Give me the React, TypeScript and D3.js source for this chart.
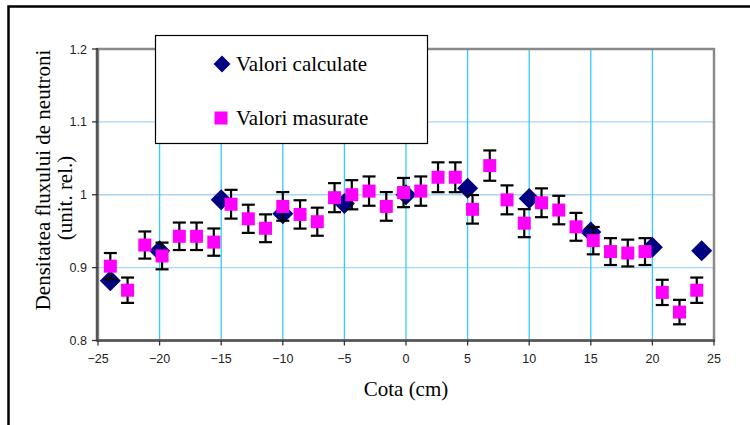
import React from "react";
import * as d3 from "d3";

// Axial position of each measurement (cm) and relative flux density
const measuredX = [-24, -22.6, -21.2, -19.8, -18.4, -17, -15.6, -14.2, -12.8, -11.4, -10, -8.6, -7.2, -5.8, -4.4, -3, -1.6, -0.2, 1.2, 2.6, 4, 5.4, 6.8, 8.2, 9.6, 11, 12.4, 13.8, 15.2, 16.6, 18, 19.4, 20.8, 22.2, 23.6];
const measuredY = [0.902, 0.869, 0.931, 0.916, 0.943, 0.943, 0.935, 0.987, 0.967, 0.954, 0.984, 0.973, 0.963, 0.996, 1.0, 1.005, 0.984, 1.003, 1.005, 1.024, 1.024, 0.98, 1.04, 0.993, 0.961, 0.989, 0.979, 0.956, 0.937, 0.922, 0.92, 0.922, 0.866, 0.839, 0.869];

// Calculated values
const calcX = [-24, -20, -15, -10, -5, 0, 5, 10, 15, 20, 24];
const calcY = [0.882, 0.923, 0.993, 0.974, 0.988, 1.0, 1.009, 0.995, 0.949, 0.928, 0.923];

// Percentage error on the measured values
const errorPercent = 2;

const xTicks = [-25, -20, -15, -10, -5, 0, 5, 10, 15, 20, 25];
const yTicks = [0.8, 0.9, 1.0, 1.1, 1.2];

const legendLabels = ["Valori calculate", "Valori masurate"];

const W = 750;
const H = 425;
const left = 98;
const right = 714;
const top = 49;
const bottom = 340.5;

const NAVY = "#000080";
const MAGENTA = "#ff00ff";
const SANS = "'Liberation Sans', Arial, Helvetica, sans-serif";
const SERIF = "'Liberation Serif', 'Times New Roman', 'DejaVu Serif', serif";

const sansStyle = { fontFamily: SANS, fontSize: 12.5 };
const serifStyle = { fontFamily: SERIF, fontSize: 21 };

export default function App() {
  const x = d3.scaleLinear().domain([-25, 25]).range([left, right]);
  const y = d3.scaleLinear().domain([0.8, 1.2]).range([bottom, top]);
  const fmt = d3.format("");

  const diamond = (cx: number, cy: number, r: number) =>
    `M${cx},${cy - r}L${cx + r},${cy}L${cx},${cy + r}L${cx - r},${cy}Z`;

  const sq = 13;
  const cap = 6.5;

  return (
    <svg
      width={W}
      height={H}
      style={{ position: "absolute", left: 0, top: 0, background: "#fff" }}
    >
      {/* outer frame */}
      <rect x={8.5} y={6.5} width={W} height={H} fill="none" stroke="#000" strokeWidth={2.5} />

      {/* plot background */}
      <rect x={left} y={top} width={right - left} height={bottom - top} fill="#fff" />

      {/* grid */}
      {yTicks.slice(1, -1).map((t) => (
        <line key={"gy" + t} x1={left} x2={right} y1={y(t)} y2={y(t)} stroke="#a9d6f7" strokeWidth={1.3} />
      ))}
      {xTicks.slice(1, -1).map((t) => (
        <line key={"gx" + t} x1={x(t)} x2={x(t)} y1={top} y2={bottom} stroke="#33ccff" strokeWidth={1.3} />
      ))}

      {/* plot border */}
      <rect x={left} y={top} width={right - left} height={bottom - top} fill="none" stroke="#8a8a8a" strokeWidth={2.5} />
      <line x1={left - 1} x2={left - 1} y1={top - 1} y2={bottom + 1} stroke="#555" strokeWidth={2.5} />
      <line x1={left - 1} x2={right + 1} y1={bottom} y2={bottom} stroke="#555" strokeWidth={2.5} />

      {/* y ticks */}
      {yTicks.map((t) => (
        <g key={"ty" + t}>
          <line x1={left - 6} x2={left} y1={y(t)} y2={y(t)} stroke="#333" strokeWidth={1.3} />
          <text x={left - 11} y={y(t) + 4.5} textAnchor="end" style={sansStyle} fill="#222">
            {fmt(t)}
          </text>
        </g>
      ))}

      {/* x ticks */}
      {xTicks.map((t) => (
        <g key={"tx" + t}>
          <line x1={x(t)} x2={x(t)} y1={bottom} y2={bottom + 5} stroke="#333" strokeWidth={1.3} />
          <text x={x(t)} y={bottom + 22} textAnchor="middle" style={sansStyle} fill="#222">
            {fmt(t)}
          </text>
        </g>
      ))}

      {/* axis titles */}
      <text x={(left + right) / 2} y={396} textAnchor="middle" style={serifStyle} fill="#000">
        Cota (cm)
      </text>
      <text transform={`translate(50,180) rotate(-90)`} textAnchor="middle" style={serifStyle} fill="#000">
        Densitatea fluxului de neutroni
      </text>
      <text transform={`translate(72,198) rotate(-90)`} textAnchor="middle" style={serifStyle} fill="#000">
        (unit. rel.)
      </text>

      {/* calculated values */}
      {calcX.map((cx, i) => (
        <path key={"c" + i} d={diamond(x(cx), y(calcY[i]), 10.5)} fill={NAVY} />
      ))}

      {/* error bars on measured values */}
      {measuredX.map((mx, i) => {
        const v = measuredY[i];
        const e = (v * errorPercent) / 100;
        const px = x(mx);
        const y0 = y(v + e);
        const y1 = y(v - e);
        return (
          <g key={"e" + i} stroke="#000" strokeWidth={2.2}>
            <line x1={px} x2={px} y1={y0} y2={y1} />
            <line x1={px - cap} x2={px + cap} y1={y0} y2={y0} />
            <line x1={px - cap} x2={px + cap} y1={y1} y2={y1} />
          </g>
        );
      })}

      {/* measured values */}
      {measuredX.map((mx, i) => (
        <rect key={"m" + i} x={x(mx) - sq / 2} y={y(measuredY[i]) - sq / 2} width={sq} height={sq} fill={MAGENTA} />
      ))}

      {/* legend */}
      <rect x={155.5} y={35.5} width={272} height={108} fill="#fff" stroke="#000" strokeWidth={1.2} />
      <path d={diamond(222, 64, 8.5)} fill={NAVY} />
      <text x={236} y={71} style={serifStyle} fill="#000">
        {legendLabels[0]}
      </text>
      <rect x={221 - 6.5} y={118 - 6.5} width={13} height={13} fill={MAGENTA} />
      <text x={236} y={125} style={serifStyle} fill="#000">
        {legendLabels[1]}
      </text>
    </svg>
  );
}
